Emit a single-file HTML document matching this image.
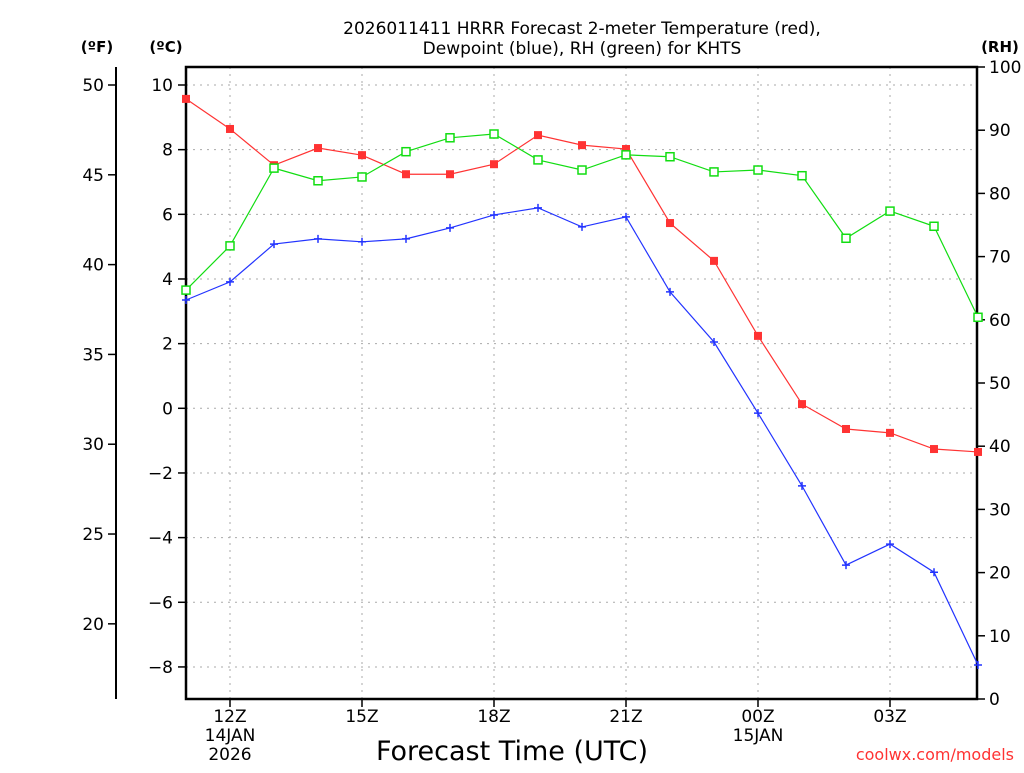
<!DOCTYPE html>
<html><head><meta charset="utf-8"><style>
html,body{margin:0;padding:0;background:#fff}
svg text{font-family:"DejaVu Sans","Liberation Sans",sans-serif}
</style></head><body>
<svg id="c" width="1024" height="768" viewBox="0 0 1024 768" xmlns="http://www.w3.org/2000/svg">
<g font-size="17" text-anchor="middle" fill="#000">
<text x="582" y="34">2026011411 HRRR Forecast 2-meter Temperature (red),</text>
<text x="582" y="54">Dewpoint (blue), RH (green) for KHTS</text>
</g>
<text x="97" y="52" font-size="15" font-weight="bold" text-anchor="middle">(ºF)</text>
<text x="166" y="52" font-size="15" font-weight="bold" text-anchor="middle">(ºC)</text>
<text x="1000" y="52" font-size="15" font-weight="bold" text-anchor="middle">(RH)</text>
<text x="512" y="760" font-size="27" text-anchor="middle">Forecast Time (UTC)</text>
<text x="1014" y="760" font-size="16" fill="#ff3333" text-anchor="end">coolwx.com/models</text>
<g id="grid"></g><g id="axes"></g><g id="series"></g>
</svg>
<script>
const hours=[11,12,13,14,15,16,17,18,19,20,21,22,23,24,25,26,27,28,29];
const tempC=[9.57,8.64,7.52,8.05,7.83,7.24,7.24,7.55,8.45,8.14,8.02,5.73,4.56,2.24,0.13,-0.64,-0.76,-1.26,-1.35];
const dewC=[3.35,3.91,5.08,5.24,5.15,5.24,5.58,5.98,6.20,5.61,5.92,3.60,2.05,-0.15,-2.40,-4.85,-4.20,-5.07,-7.94];
const rh=[64.7,71.7,84.0,82.0,82.6,86.6,88.8,89.4,85.3,83.7,86.1,85.8,83.4,83.7,82.8,72.9,77.2,74.8,60.4];
const cTicks=[10,8,6,4,2,0,-2,-4,-6,-8];
const fTicks=[50,45,40,35,30,25,20];
const rhTicks=[100,90,80,70,60,50,40,30,20,10,0];
const xTickHours=[12,15,18,21,24,27];
const xTickLabels=["12Z","15Z","18Z","21Z","00Z","03Z"];

const L=186,R=977,T=67,B=699;
const X=h=>L+(h-11)*44;
const YC=c=>408.3-c*32.33;
const YF=f=>YC((f-32)*5/9);
const YR=r=>B-r*(B-T)/100;
const NS="http://www.w3.org/2000/svg";
function mk(tag,attrs,parent,text){const e=document.createElementNS(NS,tag);for(const k in attrs)e.setAttribute(k,attrs[k]);if(text!==undefined)e.textContent=text;document.getElementById(parent).appendChild(e);return e;}

cTicks.forEach(c=>{
  const g=mk('line',{x1:L,x2:R,y1:YC(c),y2:YC(c),stroke:'#aaa','stroke-dasharray':'2,5'},'grid');
  
  
  const t=mk('line',{x1:L-8,x2:L,y1:YC(c),y2:YC(c),stroke:'#000','stroke-width':1.5},'axes');
  
  
  const s=mk('text',{x:173,y:YC(c)+6,'font-size':17,'text-anchor':'end'},'axes',(c<0?'\u2212':'')+Math.abs(c));
  
  
});
xTickHours.forEach((h,i)=>{
  const g=mk('line',{x1:X(h),x2:X(h),y1:T,y2:B,stroke:'#aaa','stroke-dasharray':'2,5'},'grid');
  
  
  const t=mk('line',{x1:X(h),x2:X(h),y1:B,y2:B+8,stroke:'#000','stroke-width':1.5},'axes');
  
  
  const s=mk('text',{x:X(h),y:722,'font-size':17,'text-anchor':'middle'},'axes',xTickLabels[i]);
  
  
});
[[12,"14JAN",741],[12,"2026",760],[24,"15JAN",741]].forEach(d=>{
  const s=mk('text',{x:X(d[0]),y:d[2],'font-size':17,'text-anchor':'middle'},'axes',d[1]);
  
  
});
fTicks.forEach(f=>{
  const t=mk('line',{x1:108,x2:116,y1:YF(f),y2:YF(f),stroke:'#000','stroke-width':1.5},'axes');
  
  
  const s=mk('text',{x:104,y:YF(f)+6,'font-size':17,'text-anchor':'end'},'axes',String(f));
  
  
});
rhTicks.forEach(r=>{
  const t=mk('line',{x1:R,x2:R+8,y1:YR(r),y2:YR(r),stroke:'#000','stroke-width':1.5},'axes');
  
  
  const s=mk('text',{x:989,y:YR(r)+6,'font-size':17,'text-anchor':'start'},'axes',String(r));
  
  
});
const fa=mk('line',{x1:116,x2:116,y1:T,y2:B,stroke:'#000','stroke-width':2},'axes');


const fr=mk('rect',{x:L,y:T,width:R-L,height:B-T,fill:'none',stroke:'#000','stroke-width':2.5},'axes');



function series(vals,yf,color,name,marker){
  const pts=vals.map((v,i)=>X(hours[i])+','+yf(v)).join(' ');
  const p=mk('polyline',{points:pts,fill:'none',stroke:color,'stroke-width':1.2},'series');
  
  
  vals.forEach((v,i)=>{
    const x=X(hours[i]),y=yf(v);let m;
    if(marker==='fill'){m=mk('rect',{x:x-4,y:y-4,width:8,height:8,fill:color},'series');}
    else if(marker==='open'){m=mk('rect',{x:x-4,y:y-4,width:8,height:8,fill:'#fff',stroke:color,'stroke-width':1.5},'series');}
    else{m=mk('path',{d:`M${x-4} ${y}H${x+4}M${x} ${y-4}V${y+4}`,stroke:color,'stroke-width':1.5},'series');}
    
    
  });
}
series(tempC,YC,'#ff3333','temperature','fill');
series(dewC,YC,'#2233ff','dewpoint','plus');
series(rh,YR,'#11dd11','rh','open');
</script>
</body></html>
